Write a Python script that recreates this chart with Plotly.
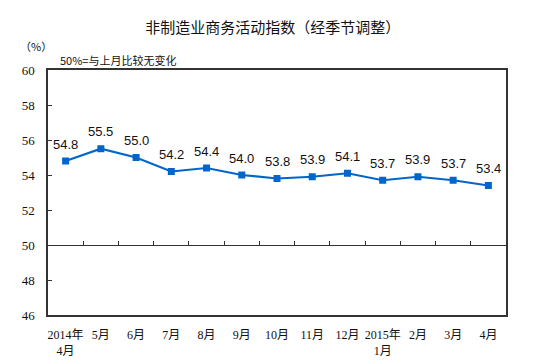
import plotly.graph_objects as go

categories = ["2014年<br>4月", "5月", "6月", "7月", "8月", "9月", "10月", "11月", "12月",
              "2015年<br>1月", "2月", "3月", "4月"]
values = [54.8, 55.5, 55.0, 54.2, 54.4, 54.0, 53.8, 53.9, 54.1, 53.7, 53.9, 53.7, 53.4]
yticks = [46, 48, 50, 52, 54, 56, 58, 60]

fig = go.Figure()
fig.add_trace(go.Scatter(
    x=categories, y=values, mode="lines+markers",
    line=dict(color="#0066CC", width=2.2),
    marker=dict(symbol="square", size=7, color="#0066CC"),
    cliponaxis=False, showlegend=False,
))
# invisible trace on secondary x-axis to create the 50 baseline with ticks
fig.add_trace(go.Scatter(x=categories, y=values, xaxis="x2", mode="markers",
                         marker=dict(opacity=0), hoverinfo="skip", showlegend=False))

for c, v in zip(categories, values):
    fig.add_annotation(x=c, y=v, text=f"{v:.1f}", showarrow=False, yshift=17,
                       font=dict(family="Liberation Sans, Arial", size=13, color="#111111"))

fig.update_layout(
    width=535, height=356,
    margin=dict(l=40, r=37, t=62, b=49),
    paper_bgcolor="white", plot_bgcolor="white",
    title=dict(text="非制造业商务活动指数（经季节调整）", x=0.495, xanchor="center", y=0.945, yanchor="middle",
               font=dict(family="Noto Sans CJK SC", size=15, color="#111111")),
    xaxis=dict(type="category", showline=True, mirror=True, linecolor="#333333", linewidth=1.5,
               showgrid=False, ticks="outside", ticklen=8, tickcolor="rgba(0,0,0,0)",
               tickfont=dict(family="Liberation Serif, Noto Sans CJK SC", size=12, color="#111111"),
               range=[-0.5, 12.5], automargin=False),
    xaxis2=dict(type="category", overlaying="x", anchor="free", position=(50 - 46) / (60 - 46),
                showline=True, linecolor="#333333", linewidth=1.2, showgrid=False,
                ticks="inside", ticklen=4, tickcolor="#333333", tickson="boundaries",
                showticklabels=False, range=[-0.5, 12.5], automargin=False),
    yaxis=dict(range=[46, 60], tickvals=yticks, showline=True, mirror=True, linecolor="#333333",
               linewidth=1.5, showgrid=False, ticks="inside", ticklen=4, tickcolor="#333333",
               ticklabelstandoff=9,
               tickfont=dict(family="Liberation Serif", size=13, color="#111111"), zeroline=False,
               automargin=False),
)
fig.add_annotation(text="（%）", xref="paper", yref="paper", x=-0.0655, y=1.098, xanchor="left",
                   yanchor="middle", showarrow=False,
                   font=dict(family="Noto Sans CJK SC", size=11, color="#111111"))
fig.add_annotation(text="50%=与上月比较无变化", xref="paper", yref="paper", x=0.022, y=1.041,
                   xanchor="left", yanchor="middle", showarrow=False,
                   font=dict(family="Noto Sans CJK SC", size=11, color="#111111"))

fig.write_html("out.html")
